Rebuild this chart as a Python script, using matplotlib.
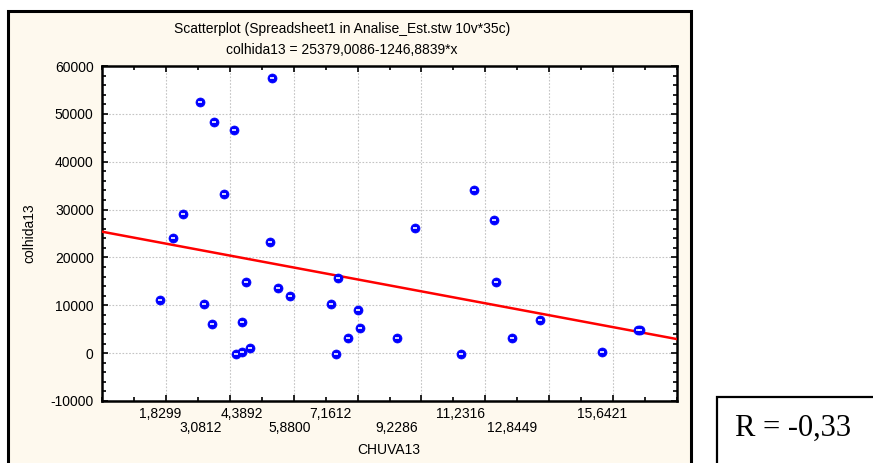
import matplotlib
matplotlib.use("Agg")
import matplotlib.pyplot as plt
from matplotlib.patches import Rectangle
from matplotlib.transforms import blended_transform_factory
import numpy as np

plt.rcParams['font.family'] = ['Liberation Sans', 'DejaVu Sans']

# ---- data ----
chuva13 = [5.31, 3.0812, 3.50, 4.12, 3.81, 2.55, 9.81, 2.23, 5.25, 7.38,
           4.50, 5.50, 5.8800, 1.8299, 3.18, 7.1612, 8.01, 4.3892, 3.43, 8.07,
           7.69, 9.2286, 4.62, 4.38, 4.18, 7.32, 11.64, 12.26, 12.33, 13.70,
           12.8449, 11.2316, 15.6421, 16.77, 16.83]
colhida13 = [57430, 52410, 48300, 46630, 33250, 29070, 26150, 24060, 23220, 15700,
             14870, 13610, 11940, 11100, 10270, 10270, 9010, 6510, 6090, 5250,
             3160, 3160, 1070, 230, -190, -190, 34020, 27750, 14870, 6930,
             3160, -190, 230, 4900, 4900]
intercept = 25379.0086
slope = -1246.8839
xtick_vals_row1 = [1.8299, 4.3892, 7.1612, 11.2316, 15.6421]
xtick_vals_row2 = [3.0812, 5.8800, 9.2286, 12.8449]
title1 = "Scatterplot (Spreadsheet1 in Analise_Est.stw 10v*35c)"
title2 = "colhida13 = 25379,0086-1246,8839*x"
r_text = "R = -0,33"

W, H = 873, 463
fig = plt.figure(figsize=(W / 100, H / 100), dpi=100)
fig.patch.set_facecolor('white')

def fx(px):
    return px / W

def fy(py):
    return 1 - py / H

# outer chart panel
panel = Rectangle((fx(8), fy(475)), fx(691) - fx(8), fy(11) - fy(475),
                  transform=fig.transFigure, facecolor='#FEF9EE',
                  edgecolor='black', linewidth=2.2, zorder=-10)
fig.patches.append(panel)

# R box
rbox = Rectangle((fx(717), fy(475)), fx(880) - fx(717), fy(397) - fy(475),
                 transform=fig.transFigure, facecolor='white',
                 edgecolor='black', linewidth=1.6, zorder=-10)
fig.patches.append(rbox)
fig.text(fx(735), fy(428), r_text, fontsize=22,
         family='Liberation Serif', ha='left', va='center')

ax = fig.add_axes([fx(102), fy(401), fx(677) - fx(102), fy(66) - fy(401)])
ax.set_zorder(5)
ax.set_facecolor('white')
ax.set_xlim(0, 18)
ax.set_ylim(-10000, 60000)

ax.set_xticks(np.arange(2, 17, 2))
ax.set_xticks(np.arange(0, 19, 1), minor=True)
ax.set_xticklabels([])
ax.set_yticks(np.arange(-10000, 60001, 10000))
ax.set_yticks(np.arange(-10000, 60001, 2000), minor=True)
ax.set_yticklabels([str(v) for v in range(-10000, 60001, 10000)])

ax.tick_params(which='both', direction='in', top=True, right=True,
               color='black', width=1.2)
ax.tick_params(which='major', length=4)
ax.tick_params(which='minor', length=3)
ax.tick_params(axis='y', labelsize=10, pad=6)

for s in ax.spines.values():
    s.set_linewidth(1.8)

ax.grid(True, which='major', color='#C4C4C4', linestyle=(0, (1.5, 1.5)), linewidth=0.8)
ax.set_axisbelow(True)

# regression line
xl = np.array([0, 18])
ax.plot(xl, intercept + slope * xl, color='#FF0000', linewidth=1.8, zorder=3)

# points
ax.plot(chuva13, colhida13, linestyle='none', marker='o', markersize=6.5,
        markerfacecolor='#0000FF', markeredgecolor='#0000FF', markeredgewidth=0.5,
        zorder=4)
ax.plot(chuva13, colhida13, linestyle='none', marker='_', markersize=2.5,
        markeredgecolor='white', markeredgewidth=1.2, zorder=5)

# staggered x tick labels
trans = blended_transform_factory(ax.transData, fig.transFigure)
for v in xtick_vals_row1:
    ax.text(v, fy(414), f"{v:.4f}".replace('.', ','), transform=trans,
            ha='center', va='center', fontsize=10, clip_on=False)
for v in xtick_vals_row2:
    ax.text(v, fy(428), f"{v:.4f}".replace('.', ','), transform=trans,
            ha='center', va='center', fontsize=10, clip_on=False)

fig.text(fx(389), fy(450), "CHUVA13", ha='center', va='center', fontsize=10)
fig.text(fx(29), fy(233), "colhida13", ha='center', va='center', fontsize=10,
         rotation=90)

fig.text(fx(342), fy(29), title1, ha='center', va='center', fontsize=10)
fig.text(fx(342), fy(50), title2, ha='center', va='center', fontsize=10)

fig.savefig("out.png", dpi=100)
